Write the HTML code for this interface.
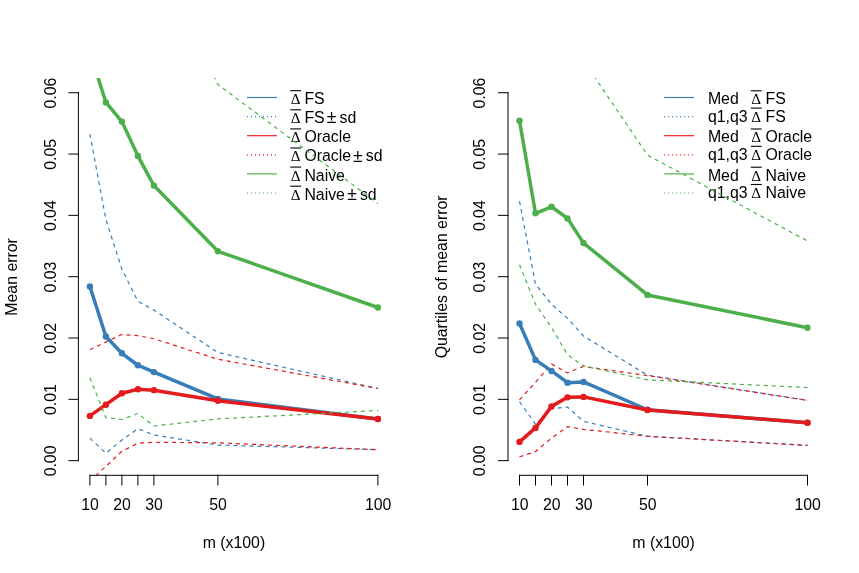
<!DOCTYPE html>
<html><head><meta charset="utf-8"><title>Mean error plots</title>
<style>
html,body{margin:0;padding:0;background:#fff;}
body{width:859px;height:573px;overflow:hidden;font-family:"Liberation Sans",sans-serif;}
svg{display:block;will-change:transform;}
</style></head><body>
<svg width="859" height="573" viewBox="0 0 859 573">
<rect width="859" height="573" fill="#fff"/>
<clipPath id="c1"><rect x="78.72" y="78.00" width="310.46" height="397.30"/></clipPath>
<g clip-path="url(#c1)">
<polyline points="89.90,134.02 105.90,219.58 121.90,269.07 137.90,301.35 153.90,310.11 217.90,352.49 377.90,388.51" fill="none" stroke="#377EB8" stroke-width="1.2" stroke-dasharray="4 4"/>
<polyline points="89.90,438.12 105.90,453.25 121.90,440.02 137.90,428.75 153.90,435.00 217.90,445.04 377.90,449.70" fill="none" stroke="#377EB8" stroke-width="1.2" stroke-dasharray="4 4"/>
<polyline points="89.90,349.74 105.90,341.90 121.90,334.43 137.90,335.71 153.90,338.71 217.90,359.23 377.90,388.51" fill="none" stroke="#E41A1C" stroke-width="1.2" stroke-dasharray="4 4"/>
<polyline points="89.90,481.43 105.90,466.30 121.90,451.23 137.90,443.21 153.90,442.23 217.90,442.84 377.90,449.70" fill="none" stroke="#E41A1C" stroke-width="1.2" stroke-dasharray="4 4"/>
<polyline points="89.90,286.41 105.90,336.51 121.90,353.29 137.90,365.23 153.90,372.09 217.90,398.92 377.90,418.95" fill="none" stroke="#377EB8" stroke-width="3.5" stroke-linejoin="round" stroke-linecap="round"/><circle cx="89.90" cy="286.41" r="3.2" fill="#377EB8"/><circle cx="105.90" cy="336.51" r="3.2" fill="#377EB8"/><circle cx="121.90" cy="353.29" r="3.2" fill="#377EB8"/><circle cx="137.90" cy="365.23" r="3.2" fill="#377EB8"/><circle cx="153.90" cy="372.09" r="3.2" fill="#377EB8"/><circle cx="217.90" cy="398.92" r="3.2" fill="#377EB8"/><circle cx="377.90" cy="418.95" r="3.2" fill="#377EB8"/>
<polyline points="89.90,415.89 105.90,404.68 121.90,393.23 137.90,389.18 153.90,390.16 217.90,400.82 377.90,419.07" fill="none" stroke="#E41A1C" stroke-width="3.5" stroke-linejoin="round" stroke-linecap="round"/><circle cx="89.90" cy="415.89" r="3.2" fill="#E41A1C"/><circle cx="105.90" cy="404.68" r="3.2" fill="#E41A1C"/><circle cx="121.90" cy="393.23" r="3.2" fill="#E41A1C"/><circle cx="137.90" cy="389.18" r="3.2" fill="#E41A1C"/><circle cx="153.90" cy="390.16" r="3.2" fill="#E41A1C"/><circle cx="217.90" cy="400.82" r="3.2" fill="#E41A1C"/><circle cx="377.90" cy="419.07" r="3.2" fill="#E41A1C"/>
<polyline points="89.90,52.06 105.90,102.47 121.90,121.58 137.90,155.88 153.90,185.59 217.90,251.31 377.90,307.48" fill="none" stroke="#4DAF4A" stroke-width="3.5" stroke-linejoin="round" stroke-linecap="round"/><circle cx="89.90" cy="52.06" r="3.2" fill="#4DAF4A"/><circle cx="105.90" cy="102.47" r="3.2" fill="#4DAF4A"/><circle cx="121.90" cy="121.58" r="3.2" fill="#4DAF4A"/><circle cx="137.90" cy="155.88" r="3.2" fill="#4DAF4A"/><circle cx="153.90" cy="185.59" r="3.2" fill="#4DAF4A"/><circle cx="217.90" cy="251.31" r="3.2" fill="#4DAF4A"/><circle cx="377.90" cy="307.48" r="3.2" fill="#4DAF4A"/>
</g>
<g stroke="#000" stroke-width="1" fill="none" stroke-linecap="butt"><path d="M78.40 92.23V461.15"/><path d="M68.40 460.65H78.90"/><path d="M68.40 399.33H78.90"/><path d="M68.40 338.01H78.90"/><path d="M68.40 276.69H78.90"/><path d="M68.40 215.37H78.90"/><path d="M68.40 154.05H78.90"/><path d="M68.40 92.73H78.90"/><path d="M89.40 475.30H378.40"/><path d="M89.90 474.80V485.50"/><path d="M105.90 474.80V485.50"/><path d="M121.90 474.80V485.50"/><path d="M137.90 474.80V485.50"/><path d="M153.90 474.80V485.50"/><path d="M217.90 474.80V485.50"/><path d="M377.90 474.80V485.50"/></g>
<g font-family="'Liberation Sans', sans-serif" font-size="15.85" fill="#000"><text x="90.10" y="510" text-anchor="middle">10</text><text x="122.10" y="510" text-anchor="middle">20</text><text x="154.10" y="510" text-anchor="middle">30</text><text x="218.10" y="510" text-anchor="middle">50</text><text x="378.10" y="510" text-anchor="middle">100</text><text transform="translate(55.60 460.95) rotate(-90)" text-anchor="middle">0.00</text><text transform="translate(55.60 399.63) rotate(-90)" text-anchor="middle">0.01</text><text transform="translate(55.60 338.31) rotate(-90)" text-anchor="middle">0.02</text><text transform="translate(55.60 276.99) rotate(-90)" text-anchor="middle">0.03</text><text transform="translate(55.60 215.67) rotate(-90)" text-anchor="middle">0.04</text><text transform="translate(55.60 154.35) rotate(-90)" text-anchor="middle">0.05</text><text transform="translate(55.60 93.03) rotate(-90)" text-anchor="middle">0.06</text><text x="233.95" y="547.7" text-anchor="middle">m (x100)</text><text transform="translate(17.30 276.90) rotate(-90)" text-anchor="middle">Mean error</text></g>
<g font-family="'Liberation Sans', sans-serif" font-size="15.85" fill="#000"><path d="M247.0 97.50H276.9" stroke="#377EB8" stroke-width="1.15" fill="none"/><text x="290.70" y="104.10" font-family="'Liberation Serif', serif" font-size="15.2">Δ</text><path d="M290.20 90.70H301.10" stroke="#000" stroke-width="1.1"/><text x="304.4" y="104.10">FS</text><path d="M247.0 116.60H276.9" stroke="#377EB8" stroke-width="1.15" fill="none" stroke-dasharray="1 3"/><text x="290.70" y="123.20" font-family="'Liberation Serif', serif" font-size="15.2">Δ</text><path d="M290.20 109.80H301.10" stroke="#000" stroke-width="1.1"/><text x="304.4" y="123.20">FS</text><text x="326.80" y="123.40" font-size="17.5">±</text><text x="339.50" y="123.20">sd</text><path d="M247.0 135.70H276.9" stroke="#E41A1C" stroke-width="1.15" fill="none"/><text x="290.70" y="142.30" font-family="'Liberation Serif', serif" font-size="15.2">Δ</text><path d="M290.20 128.90H301.10" stroke="#000" stroke-width="1.1"/><text x="304.4" y="142.30">Oracle</text><path d="M247.0 154.80H276.9" stroke="#E41A1C" stroke-width="1.15" fill="none" stroke-dasharray="1 3"/><text x="290.70" y="161.40" font-family="'Liberation Serif', serif" font-size="15.2">Δ</text><path d="M290.20 148.00H301.10" stroke="#000" stroke-width="1.1"/><text x="304.4" y="161.40">Oracle</text><text x="353.10" y="161.60" font-size="17.5">±</text><text x="365.80" y="161.40">sd</text><path d="M247.0 173.90H276.9" stroke="#4DAF4A" stroke-width="1.15" fill="none"/><text x="290.70" y="180.50" font-family="'Liberation Serif', serif" font-size="15.2">Δ</text><path d="M290.20 167.10H301.10" stroke="#000" stroke-width="1.1"/><text x="304.4" y="180.50">Naive</text><path d="M247.0 193.00H276.9" stroke="#4DAF4A" stroke-width="1.15" fill="none" stroke-dasharray="1 3"/><text x="290.70" y="199.60" font-family="'Liberation Serif', serif" font-size="15.2">Δ</text><path d="M290.20 186.20H301.10" stroke="#000" stroke-width="1.1"/><text x="304.4" y="199.60">Naive</text><text x="347.20" y="199.80" font-size="17.5">±</text><text x="359.90" y="199.60">sd</text></g>
<g clip-path="url(#c1)">
<polyline points="89.90,-519.40 105.90,-212.54 121.90,-151.90 137.90,-90.65 153.90,-54.51 217.90,84.52 377.90,203.47" fill="none" stroke="#4DAF4A" stroke-width="1.2" stroke-dasharray="4 4"/>
<polyline points="89.90,377.79 105.90,417.60 121.90,419.50 137.90,413.50 153.90,425.99 217.90,418.89 377.90,410.50" fill="none" stroke="#4DAF4A" stroke-width="1.2" stroke-dasharray="4 4"/>
</g>
<clipPath id="c2"><rect x="508.32" y="78.00" width="310.46" height="397.30"/></clipPath>
<g clip-path="url(#c2)">
<polyline points="519.50,201.21 535.50,284.20 551.50,304.29 567.50,318.32 583.50,336.02 647.50,375.22 807.50,400.39" fill="none" stroke="#377EB8" stroke-width="1.2" stroke-dasharray="4 4"/>
<polyline points="519.50,401.74 535.50,424.16 551.50,408.84 567.50,407.01 583.50,421.34 647.50,436.28 807.50,445.41" fill="none" stroke="#377EB8" stroke-width="1.2" stroke-dasharray="4 4"/>
<polyline points="519.50,399.90 535.50,382.20 551.50,364.01 567.50,372.83 583.50,366.46 647.50,375.59 807.50,400.39" fill="none" stroke="#E41A1C" stroke-width="1.2" stroke-dasharray="4 4"/>
<polyline points="519.50,456.80 535.50,451.60 551.50,438.12 567.50,426.61 583.50,429.36 647.50,436.28 807.50,445.41" fill="none" stroke="#E41A1C" stroke-width="1.2" stroke-dasharray="4 4"/>
<polyline points="519.50,323.52 535.50,359.91 551.50,370.93 567.50,382.69 583.50,381.89 647.50,409.76 807.50,422.69" fill="none" stroke="#377EB8" stroke-width="3.5" stroke-linejoin="round" stroke-linecap="round"/><circle cx="519.50" cy="323.52" r="3.2" fill="#377EB8"/><circle cx="535.50" cy="359.91" r="3.2" fill="#377EB8"/><circle cx="551.50" cy="370.93" r="3.2" fill="#377EB8"/><circle cx="567.50" cy="382.69" r="3.2" fill="#377EB8"/><circle cx="583.50" cy="381.89" r="3.2" fill="#377EB8"/><circle cx="647.50" cy="409.76" r="3.2" fill="#377EB8"/><circle cx="807.50" cy="422.69" r="3.2" fill="#377EB8"/>
<polyline points="519.50,441.92 535.50,427.89 551.50,406.39 567.50,397.33 583.50,396.90 647.50,410.01 807.50,422.69" fill="none" stroke="#E41A1C" stroke-width="3.5" stroke-linejoin="round" stroke-linecap="round"/><circle cx="519.50" cy="441.92" r="3.2" fill="#E41A1C"/><circle cx="535.50" cy="427.89" r="3.2" fill="#E41A1C"/><circle cx="551.50" cy="406.39" r="3.2" fill="#E41A1C"/><circle cx="567.50" cy="397.33" r="3.2" fill="#E41A1C"/><circle cx="583.50" cy="396.90" r="3.2" fill="#E41A1C"/><circle cx="647.50" cy="410.01" r="3.2" fill="#E41A1C"/><circle cx="807.50" cy="422.69" r="3.2" fill="#E41A1C"/>
<polyline points="519.50,120.79 535.50,213.27 551.50,206.78 567.50,218.42 583.50,243.04 647.50,294.92 807.50,327.69" fill="none" stroke="#4DAF4A" stroke-width="3.5" stroke-linejoin="round" stroke-linecap="round"/><circle cx="519.50" cy="120.79" r="3.2" fill="#4DAF4A"/><circle cx="535.50" cy="213.27" r="3.2" fill="#4DAF4A"/><circle cx="551.50" cy="206.78" r="3.2" fill="#4DAF4A"/><circle cx="567.50" cy="218.42" r="3.2" fill="#4DAF4A"/><circle cx="583.50" cy="243.04" r="3.2" fill="#4DAF4A"/><circle cx="647.50" cy="294.92" r="3.2" fill="#4DAF4A"/><circle cx="807.50" cy="327.69" r="3.2" fill="#4DAF4A"/>
</g>
<g stroke="#000" stroke-width="1" fill="none" stroke-linecap="butt"><path d="M508.00 92.23V461.15"/><path d="M498.00 460.65H508.50"/><path d="M498.00 399.33H508.50"/><path d="M498.00 338.01H508.50"/><path d="M498.00 276.69H508.50"/><path d="M498.00 215.37H508.50"/><path d="M498.00 154.05H508.50"/><path d="M498.00 92.73H508.50"/><path d="M519.00 475.30H808.00"/><path d="M519.50 474.80V485.50"/><path d="M535.50 474.80V485.50"/><path d="M551.50 474.80V485.50"/><path d="M567.50 474.80V485.50"/><path d="M583.50 474.80V485.50"/><path d="M647.50 474.80V485.50"/><path d="M807.50 474.80V485.50"/></g>
<g font-family="'Liberation Sans', sans-serif" font-size="15.85" fill="#000"><text x="519.70" y="510" text-anchor="middle">10</text><text x="551.70" y="510" text-anchor="middle">20</text><text x="583.70" y="510" text-anchor="middle">30</text><text x="647.70" y="510" text-anchor="middle">50</text><text x="807.70" y="510" text-anchor="middle">100</text><text transform="translate(485.20 460.95) rotate(-90)" text-anchor="middle">0.00</text><text transform="translate(485.20 399.63) rotate(-90)" text-anchor="middle">0.01</text><text transform="translate(485.20 338.31) rotate(-90)" text-anchor="middle">0.02</text><text transform="translate(485.20 276.99) rotate(-90)" text-anchor="middle">0.03</text><text transform="translate(485.20 215.67) rotate(-90)" text-anchor="middle">0.04</text><text transform="translate(485.20 154.35) rotate(-90)" text-anchor="middle">0.05</text><text transform="translate(485.20 93.03) rotate(-90)" text-anchor="middle">0.06</text><text x="663.55" y="547.7" text-anchor="middle">m (x100)</text><text transform="translate(446.90 276.90) rotate(-90)" text-anchor="middle">Quartiles of mean error</text></g>
<g font-family="'Liberation Sans', sans-serif" font-size="15.85" fill="#000"><path d="M664.2 97.50H694.1" stroke="#377EB8" stroke-width="1.15" fill="none"/><text x="707.9" y="104.20">Med</text><text x="751.30" y="104.20" font-family="'Liberation Serif', serif" font-size="15.2">Δ</text><path d="M750.80 90.80H761.70" stroke="#000" stroke-width="1.1"/><text x="765.5" y="104.20">FS</text><path d="M664.2 116.60H694.1" stroke="#377EB8" stroke-width="1.15" fill="none" stroke-dasharray="1 3"/><text x="707.9" y="121.50">q1,q3</text><text x="751.30" y="121.50" font-family="'Liberation Serif', serif" font-size="15.2">Δ</text><path d="M750.80 108.10H761.70" stroke="#000" stroke-width="1.1"/><text x="765.5" y="121.50">FS</text><path d="M664.2 135.70H694.1" stroke="#E41A1C" stroke-width="1.15" fill="none"/><text x="707.9" y="142.40">Med</text><text x="751.30" y="142.40" font-family="'Liberation Serif', serif" font-size="15.2">Δ</text><path d="M750.80 129.00H761.70" stroke="#000" stroke-width="1.1"/><text x="765.5" y="142.40">Oracle</text><path d="M664.2 154.80H694.1" stroke="#E41A1C" stroke-width="1.15" fill="none" stroke-dasharray="1 3"/><text x="707.9" y="159.70">q1,q3</text><text x="751.30" y="159.70" font-family="'Liberation Serif', serif" font-size="15.2">Δ</text><path d="M750.80 146.30H761.70" stroke="#000" stroke-width="1.1"/><text x="765.5" y="159.70">Oracle</text><path d="M664.2 173.90H694.1" stroke="#4DAF4A" stroke-width="1.15" fill="none"/><text x="707.9" y="180.60">Med</text><text x="751.30" y="180.60" font-family="'Liberation Serif', serif" font-size="15.2">Δ</text><path d="M750.80 167.20H761.70" stroke="#000" stroke-width="1.1"/><text x="765.5" y="180.60">Naive</text><path d="M664.2 193.00H694.1" stroke="#4DAF4A" stroke-width="1.15" fill="none" stroke-dasharray="1 3"/><text x="707.9" y="197.90">q1,q3</text><text x="751.30" y="197.90" font-family="'Liberation Serif', serif" font-size="15.2">Δ</text><path d="M750.80 184.50H761.70" stroke="#000" stroke-width="1.1"/><text x="765.5" y="197.90">Naive</text></g>
<g clip-path="url(#c2)">
<polyline points="519.50,-274.40 535.50,-151.90 551.50,-90.65 567.50,-29.40 583.50,60.64 647.50,155.09 807.50,241.02" fill="none" stroke="#4DAF4A" stroke-width="1.2" stroke-dasharray="4 4"/>
<polyline points="519.50,264.72 535.50,304.29 551.50,327.63 567.50,354.70 583.50,365.91 647.50,379.87 807.50,387.53" fill="none" stroke="#4DAF4A" stroke-width="1.2" stroke-dasharray="4 4"/>
</g>
</svg>
</body></html>
